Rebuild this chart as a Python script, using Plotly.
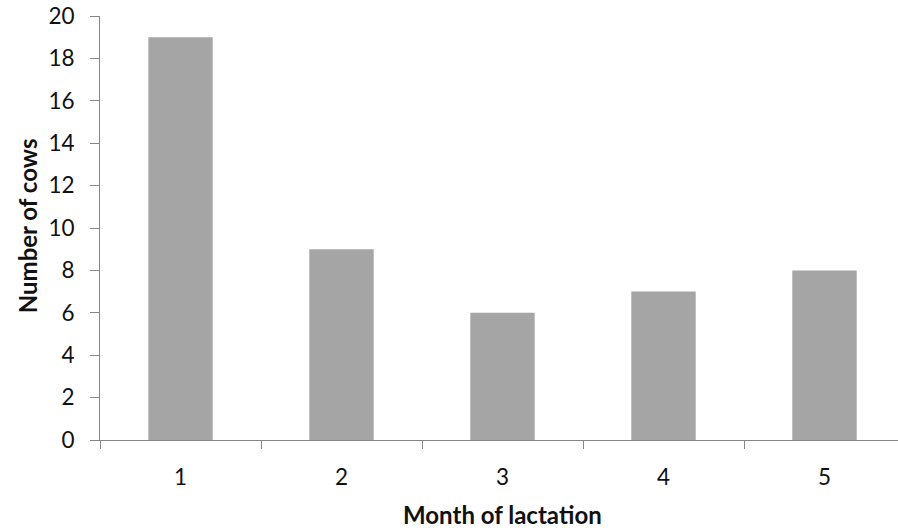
import plotly.graph_objects as go

# Cows counted per month of lactation
months = ["1", "2", "3", "4", "5"]
cows = [19, 9, 6, 7, 8]
y_ticks = [0, 2, 4, 6, 8, 10, 12, 14, 16, 18, 20]

W, H = 898, 531
left, top, bottom = 100, 15.5, 91
cat_px = 161  # width of one category slot in pixels
x_span = (W - left) / cat_px

fig = go.Figure(
    go.Bar(
        x=months,
        y=cows,
        marker=dict(color="#A5A5A5", line=dict(width=0)),
        width=0.4,
    )
)

font = "Lato, Calibri, Carlito, sans-serif"
fig.update_layout(
    width=W,
    height=H,
    margin=dict(l=left, r=0, t=top, b=bottom),
    paper_bgcolor="white",
    plot_bgcolor="white",
    showlegend=False,
    font=dict(family=font, size=22.5, color="#111111"),
    xaxis=dict(
        type="category",
        range=[-0.5, -0.5 + x_span],
        tickson="boundaries",
        ticks="outside",
        ticklen=8,
        tickwidth=1,
        tickcolor="#868686",
        showline=True,
        linecolor="#868686",
        linewidth=1,
        showgrid=False,
        zeroline=False,
        ticklabelstandoff=17,
    ),
    yaxis=dict(
        range=[0, 20],
        tickvals=y_ticks,
        ticks="outside",
        ticklen=9,
        tickwidth=1,
        tickcolor="#868686",
        showline=True,
        linecolor="#868686",
        linewidth=1,
        showgrid=False,
        zeroline=False,
        ticklabelstandoff=11,
    ),
    annotations=[
        dict(
            # zero-width non-joiner keeps "ti" from forming a ligature
            text="<b>Month of lacta\u200ction</b>",
            x=502, y=H - 515, xref="paper", yref="paper",
            xanchor="center", yanchor="middle",
            showarrow=False, font=dict(size=24),
        ),
        dict(
            text="<b>Number of cows</b>",
            x=27, y=H - 226, xref="paper", yref="paper",
            xanchor="center", yanchor="middle",
            showarrow=False, textangle=-90, font=dict(size=24),
        ),
    ],
)

# convert pixel positions of the titles into paper fractions
plot_w = W - left
plot_h = H - top - bottom
for ann in fig.layout.annotations:
    ann.x = (ann.x - left) / plot_w
    ann.y = (ann.y - bottom) / plot_h

fig.write_html("out.html")
